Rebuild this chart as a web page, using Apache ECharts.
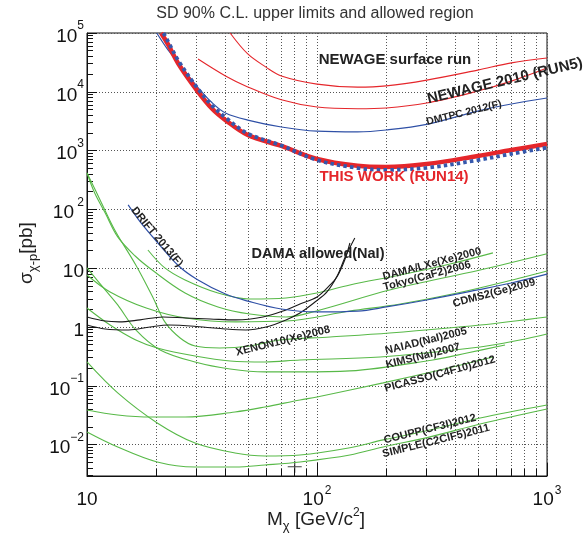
<!DOCTYPE html>
<html><head><meta charset="utf-8">
<script src="https://cdn.jsdelivr.net/npm/echarts@6/dist/echarts.min.js"></script>
<style>html,body{margin:0;padding:0;background:#fff}#c{width:586px;height:535px}</style>
</head><body><div id="c"></div>
<script>
// ---------------- data ----------------
const xRange = [10, 1000];
const yRange = [0.00292, 100000];

const yTickExp  = [-2, -1, 0, 1, 2, 3, 4, 5];
const yTickBase = ['10', '10', '1', '10', '10', '10', '10', '10'];
const yTickSup  = ['\u22122', '\u22121', '', '', ' 2', '3', '4', '5'];
const xTickExp  = [1, 2, 3];
const xTickBase = ['10', '10', '10'];
const xTickSup  = ['', '2', '3'];

// THIS WORK (RUN14)
const thisWorkX = [21, 22.5, 25, 30, 35, 40, 50, 70, 100, 150, 200, 300, 500, 700, 1000];
const thisWorkY = [100000, 64000, 29700, 10700, 5150, 3300, 1840, 1200, 720, 550, 525, 590, 810, 1020, 1290];
// THIS WORK, dotted blue
const thisWorkBX = [21.5, 22.5, 25, 30, 35, 40, 50, 70, 100, 150, 200, 300, 500, 700, 1000];
const thisWorkBY = [100000, 72000, 33500, 12000, 5800, 3650, 1950, 1220, 690, 505, 470, 510, 690, 880, 1120];
// DMTPC 2012(F)
const dmtpcX = [20.1, 22.5, 25, 30, 35, 40, 50, 70, 100, 150, 200, 300, 500, 700, 1000];
const dmtpcY = [100000, 51500, 31000, 12500, 6500, 4370, 3300, 2520, 2140, 2080, 2240, 2800, 4700, 6200, 7850];
// NEWAGE 2010 (RUN5)
const newage2010X = [30.4, 40, 50, 70, 100, 150, 200, 300, 500, 700, 1000];
const newage2010Y = [36100, 18600, 12100, 7300, 5500, 5150, 5300, 6430, 10300, 15200, 25400];
// NEWAGE surface run
const surfaceX = [41.9, 50, 60, 70, 100, 150, 200, 300, 500, 700, 1000];
const surfaceY = [100000, 44000, 26300, 18600, 13500, 12000, 12600, 15800, 23400, 31000, 37600];
// DRIFT 2013(F)
const driftX = [15.1, 17, 20, 25, 30, 40, 50, 70, 100, 150, 200, 300, 500, 700, 1000];
const driftY = [119, 62, 29, 11, 6.5, 3.63, 2.76, 2.02, 1.80, 1.86, 2.19, 2.88, 4.27, 5.6, 7.9];
// DAMA/LXe(Xe)2000
const damaLXeX = [18.4, 21.8, 26.7, 37.1, 51.1, 73.3, 100, 139, 230, 379, 582];
const damaLXeY = [20.4, 10.1, 6.3, 3.78, 2.99, 3.11, 3.78, 5.18, 7.66, 11.8, 18.2];
// Tokyo(CaF2)2006
const tokyoX = [10, 10.8, 12.0, 13.6, 16.2, 19.2, 26.7, 37.1, 51.1, 73.3, 103, 207, 512, 1000];
const tokyoY = [416, 190, 86.9, 34.0, 16.1, 9.3, 3.78, 2.19, 1.66, 1.48, 1.95, 4.26, 9.3, 17.6];
// CDMS2(Ge)2009
const cdmsX = [10, 12.6, 18.1, 26.9, 44.4, 73.3, 139, 230, 407, 625, 1000];
const cdmsY = [7.66, 3.94, 2.10, 1.42, 1.22, 1.26, 1.87, 2.46, 3.78, 5.60, 8.95];
// XENON10(Xe)2008
const xenonX = [10, 11.4, 13.2, 16.3, 19.4, 21.8, 25.4, 29.5, 37.8, 51.1, 69, 114, 207, 512, 1000];
const xenonY = [416, 145, 44.7, 11.3, 3.11, 1.22, 0.65, 0.475, 0.44, 0.475, 0.60, 0.676, 0.79, 1.08, 1.48];
// NAIAD(NaI)2005
const naiadX = [10, 12.6, 16.3, 20.2, 29.5, 41.9, 59.4, 84.3, 188, 512, 763, 1000];
const naiadY = [2.10, 1.08, 0.60, 0.44, 0.321, 0.264, 0.254, 0.275, 0.309, 0.457, 0.60, 0.76];
// KIMS(NaI)2007
const kimsX = [10, 12.0, 13.6, 16.3, 20.8, 29.5, 41.9, 59.4, 84.3, 139, 319, 449, 657];
const kimsY = [10.1, 4.26, 2.37, 0.89, 0.407, 0.254, 0.193, 0.172, 0.172, 0.179, 0.275, 0.361, 0.494];
// PICASSO(C4F10)2012
const picassoX = [10, 13.6, 19.2, 26.7, 44.0, 59.4, 84.3, 100, 194, 343, 582];
const picassoY = [0.0387, 0.0318, 0.0294, 0.0294, 0.0358, 0.0436, 0.0574, 0.0646, 0.112, 0.186, 0.309];
// COUPP(CF3I)2012
const couppX = [10, 13.6, 20.2, 29.5, 44.0, 59.4, 84.3, 139, 194, 310, 512, 1000];
const couppY = [0.254, 0.0755, 0.0233, 0.0106, 0.0072, 0.0064, 0.00665, 0.0088, 0.012, 0.0177, 0.0283, 0.0471];
// SIMPLE(C2ClF5)2011
const simpleX = [10, 13.6, 20.2, 29.5, 44.0, 59.4, 84.3, 139, 194, 310, 512, 1000];
const simpleY = [0.0164, 0.0091, 0.00506, 0.00416, 0.00416, 0.0045, 0.00506, 0.00665, 0.0091, 0.0135, 0.0224, 0.0403];
// DAMA allowed (NaI) boundaries
const damaUpX = [10, 12.0, 13.8, 17.0, 21.4, 26.9, 34.3, 44.4, 58.2, 73.3, 84.3, 100, 114, 122, 132, 139];
const damaUpY = [1.48, 1.26, 1.22, 1.32, 1.48, 1.42, 1.37, 1.32, 1.48, 1.95, 2.46, 3.24, 5.18, 7.08, 13.8, 26.8];
const damaLoX = [10, 12.0, 15.2, 18.8, 22.7, 31.9, 39.8, 49.1, 60.0, 73.3, 84.3, 98, 110.5, 123, 132, 146];
const damaLoY = [1.08, 0.925, 0.89, 1.0, 1.08, 1.0, 0.925, 0.89, 1.0, 1.32, 1.73, 2.66, 3.94, 7.66, 14.9, 32.7];
// cross marker
const markX = [80];
const markY = [0.0042];

// ---------------- chart ----------------
const FONT = "'Liberation Sans', Arial, Helvetica, sans-serif";
const GREEN = '#58B948', RED = '#E5262B', BLUE = '#2F50A6', BLACK = '#1a1a1a';
const pairs = (xs, ys) => xs.map((x, i) => [x, ys[i]]);
function line(name, xs, ys, color, width, extra) {
  return Object.assign({
    type: 'line', name, data: pairs(xs, ys), showSymbol: false, symbol: 'none',
    smooth: 0.35, clip: true, silent: true,
    lineStyle: { color, width }
  }, extra || {});
}
function label(fmtBase, fmtSup) {
  return fmtSup ? `{b|${fmtBase}}{s|${fmtSup}}` : `{b|${fmtBase}}`;
}
function txt(t, x, y, size, rot, color, weight) {
  return {
    type: 'text', x, y, rotation: (rot || 0) * Math.PI / 180, z: 100,
    style: { text: t, fill: color || '#222', font: `${weight || 'bold'} ${size}px ${FONT}`,
      align: 'center', verticalAlign: 'middle', textAlign: 'center', textVerticalAlign: 'middle' }
  };
}
const gridStyle = { type: [1, 2], color: '#555', width: 1 };

const chart = echarts.init(document.getElementById('c'));
chart.setOption({
  animation: false,
  backgroundColor: '#fff',
  grid: { left: 87, right: 39, top: 33, bottom: 59, show: true, borderColor: '#111', borderWidth: 1,
          containLabel: false, outerBoundsMode: 'none' },
  xAxis: {
    type: 'log', logBase: 10, min: xRange[0], max: xRange[1],
    axisLine: { show: true, lineStyle: { color: '#111', width: 1 } },
    axisTick: { show: true, inside: true, length: 13, lineStyle: { color: '#111' } },
    minorTick: { show: true, splitNumber: 9, length: 7, lineStyle: { color: '#111' } },
    splitLine: { show: true, lineStyle: gridStyle },
    minorSplitLine: { show: true, lineStyle: gridStyle },
    axisLabel: {
      margin: 9, color: '#111', fontFamily: FONT,
      formatter: v => {
        const e = Math.log10(v), r = Math.round(e);
        if (Math.abs(e - r) > 1e-6) return '';
        const i = xTickExp.indexOf(r);
        return i < 0 ? '' : label(xTickBase[i], xTickSup[i]);
      },
      rich: {
        b: { fontSize: 19, fontFamily: FONT, color: '#111', lineHeight: 24, verticalAlign: 'bottom' },
        s: { fontSize: 12, fontFamily: FONT, color: '#111', lineHeight: 24, verticalAlign: 'top', padding: [0, 0, 0, 1] }
      }
    }
  },
  yAxis: {
    type: 'log', logBase: 10, min: yRange[0], max: yRange[1],
    axisLine: { show: true, lineStyle: { color: '#111', width: 1 } },
    axisTick: { show: true, inside: true, length: 10, lineStyle: { color: '#111' } },
    minorTick: { show: true, splitNumber: 9, length: 6, lineStyle: { color: '#111' } },
    splitLine: { show: true, lineStyle: gridStyle },
    minorSplitLine: { show: false },
    axisLabel: {
      margin: 3, color: '#111', fontFamily: FONT,
      formatter: v => {
        const e = Math.log10(v), r = Math.round(e);
        if (Math.abs(e - r) > 1e-6) return '';
        const i = yTickExp.indexOf(r);
        return i < 0 ? '' : label(yTickBase[i], yTickSup[i]);
      },
      rich: {
        b: { fontSize: 19, fontFamily: FONT, color: '#111', lineHeight: 26, verticalAlign: 'bottom' },
        s: { fontSize: 12, fontFamily: FONT, color: '#111', lineHeight: 26, verticalAlign: 'top' }
      }
    }
  },
  series: [
    line('XENON10(Xe)2008', xenonX, xenonY, GREEN, 1.1),
    line('Tokyo(CaF2)2006', tokyoX, tokyoY, GREEN, 1.1),
    line('DAMA/LXe(Xe)2000', damaLXeX, damaLXeY, GREEN, 1.1),
    line('CDMS2(Ge)2009', cdmsX, cdmsY, GREEN, 1.1),
    line('NAIAD(NaI)2005', naiadX, naiadY, GREEN, 1.1),
    line('KIMS(NaI)2007', kimsX, kimsY, GREEN, 1.1),
    line('PICASSO(C4F10)2012', picassoX, picassoY, GREEN, 1.1),
    line('COUPP(CF3I)2012', couppX, couppY, GREEN, 1.1),
    line('SIMPLE(C2ClF5)2011', simpleX, simpleY, GREEN, 1.1),
    line('DAMA up', damaUpX, damaUpY, BLACK, 1.1),
    line('DAMA lo', damaLoX, damaLoY, BLACK, 1.1),
    line('DRIFT 2013(F)', driftX, driftY, BLUE, 1.2),
    line('DMTPC 2012(F)', dmtpcX, dmtpcY, BLUE, 1.2),
    line('NEWAGE surface run', surfaceX, surfaceY, RED, 1.1),
    line('NEWAGE 2010 (RUN5)', newage2010X, newage2010Y, RED, 1.1),
    line('THIS WORK (RUN14)', thisWorkX, thisWorkY, RED, 4.5),
    line('THIS WORK dotted', thisWorkBX, thisWorkBY, '#3558AC', 3.8,
      { lineStyle: { color: '#3558AC', width: 3.8, type: [3.5, 3.2], cap: 'butt' } }),
    { type: 'scatter', name: 'mark', data: pairs(markX, markY), symbol: 'path://M0,6L14,6M7,0L7,12',
      symbolSize: [14, 12], silent: true,
      itemStyle: { color: 'rgba(0,0,0,0)', borderColor: '#111', borderWidth: 1.1 } }
  ],
  graphic: [
    txt('SD 90% C.L. upper limits and allowed region', 315, 14, 16, 0, '#333', 'normal'),
    txt('NEWAGE surface run', 395, 60, 15, 0),
    txt('NEWAGE 2010 (RUN5)', 505, 81, 15, 13.4),
    txt('DMTPC 2012(F)', 464, 113, 10.5, 14),
    txt('THIS WORK (RUN14)', 394, 177, 15, 0, RED),
    txt('DRIFT 2013(F)', 157, 237, 11, -50),
    txt('DAMA allowed(NaI)', 318, 254, 14.5, 0),
    txt('DAMA/LXe(Xe)2000', 432, 264, 11, 15),
    txt('Tokyo(CaF2)2006', 427, 276, 11, 15),
    txt('CDMS2(Ge)2009', 494, 293, 11, 15),
    txt('XENON10(Xe)2008', 283, 341, 11, 14),
    txt('NAIAD(NaI)2005', 426, 341, 11, 14),
    txt('KIMS(NaI)2007', 423, 356, 11, 14),
    txt('PICASSO(C4F10)2012', 440, 374, 11, 15),
    txt('COUPP(CF3I)2012', 430, 429, 11, 14),
    txt('SIMPLE(C2ClF5)2011', 436, 441, 11, 14),
    { type: 'text', x: 316, y: 520, z: 100,
      style: { text: '{n|M}{u|\u03c7}{n| [GeV/c}{p|2}{n|]}', align: 'center', verticalAlign: 'middle',
        textAlign: 'center', textVerticalAlign: 'middle',
        rich: {
          n: { fontSize: 19, fontFamily: FONT, fill: '#222', color: '#222', lineHeight: 26, verticalAlign: 'middle' },
          u: { fontSize: 13, fontFamily: FONT, fill: '#222', color: '#222', lineHeight: 26, verticalAlign: 'bottom' },
          p: { fontSize: 12, fontFamily: FONT, fill: '#222', color: '#222', lineHeight: 26, verticalAlign: 'top' }
        } } },
    { type: 'text', x: 27, y: 253, rotation: Math.PI / 2, z: 100,
      style: { text: '{n|\u03c3}{u|\u03c7-p}{n|[pb]}', align: 'center', verticalAlign: 'middle',
        textAlign: 'center', textVerticalAlign: 'middle',
        rich: {
          n: { fontSize: 19, fontFamily: FONT, fill: '#222', color: '#222', lineHeight: 26, verticalAlign: 'middle' },
          u: { fontSize: 13, fontFamily: FONT, fill: '#222', color: '#222', lineHeight: 26, verticalAlign: 'bottom' }
        } } }
  ]
});
</script>
</body></html>
